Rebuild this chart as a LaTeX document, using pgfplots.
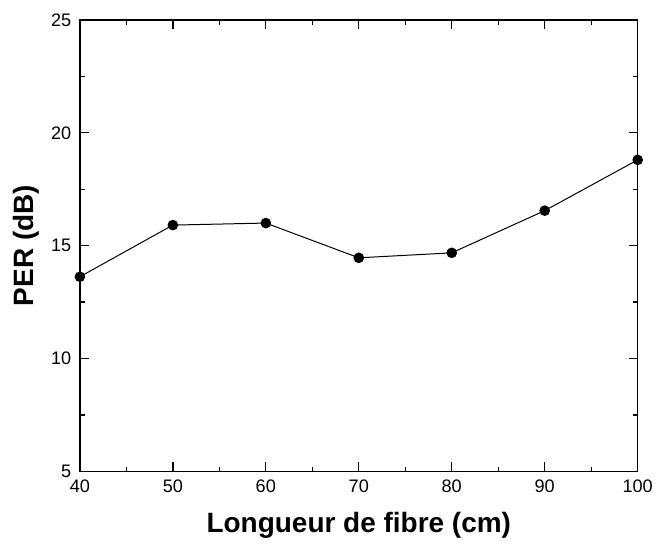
\documentclass[border=0pt]{standalone}
\usepackage{pgfplots}
\pgfplotsset{compat=1.18}
\usepackage{fontspec}
\setmainfont{Liberation Sans}
\begin{document}
\begin{tikzpicture}
\begin{axis}[
  scale only axis,
  width=419pt, height=339pt,
  at={(0,0)}, anchor=south west,
  xmin=40, xmax=100, ymin=5, ymax=25,
  xtick={40,50,...,100}, ytick={5,10,...,25},
  minor x tick num=1, minor y tick num=1,
  tick align=inside,
  major tick length=6.75pt, minor tick length=3.5pt,
  axis line style={line width=1pt},
  every tick/.style={black, line width=1pt},
  tick label style={font=\fontsize{13.6}{15}\selectfont},
  /pgf/number format/assume math mode=true,
  xlabel={\textbf{Longueur de fibre (cm)}},
  ylabel={\textbf{PER (dB)}},
  label style={font=\fontsize{21}{24}\selectfont},
  xlabel style={at={(axis description cs:0.5,0)}, anchor=north, yshift=-27pt},
  ylabel style={at={(axis description cs:0,0.5)}, anchor=south, yshift=27pt},
  xticklabel style={yshift=-3pt},
  yticklabel style={xshift=-3pt},
]
\addplot[black, line width=0.75pt, mark=*, mark size=3.6pt, mark options={solid, fill=black}]
coordinates {(40,13.62) (50,15.91) (60,16.0) (70,14.46) (80,14.68) (90,16.55) (100,18.8)};
\end{axis}
\pgfresetboundingbox
\path (-60pt,-58.5pt) rectangle (433.5pt,354pt);
\end{tikzpicture}
\end{document}
